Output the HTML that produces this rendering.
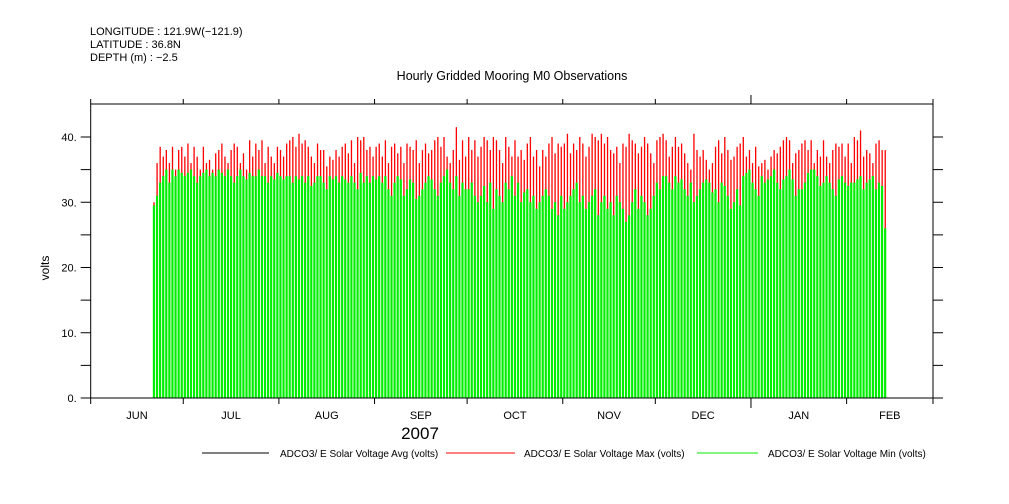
<!DOCTYPE html>
<html><head><meta charset="utf-8"><style>
body{margin:0;background:#fff;}
svg{display:block;font-family:"Liberation Sans",sans-serif;}
</style></head><body>
<svg id="chart" width="1009" height="504" viewBox="0 0 1009 504">
<g font-size="11" fill="#000">
<text x="90" y="35">LONGITUDE : 121.9W(−121.9)</text>
<text x="90" y="48">LATITUDE : 36.8N</text>
<text x="90" y="61">DEPTH (m) : −2.5</text>
</g>
<text x="512" y="80" text-anchor="middle" font-size="12.5">Hourly Gridded Mooring M0 Observations</text>
<text transform="translate(49,268) rotate(-90)" text-anchor="middle" font-size="12">volts</text>
<g id="marks"></g>
<g id="axes"></g>
<text x="420" y="439" text-anchor="middle" font-size="17">2007</text>
<g font-size="10">
<line x1="202" y1="453" x2="269" y2="453" stroke="#000"/>
<text x="280" y="457">ADCO3/ E Solar Voltage Avg (volts)</text>
<line x1="446" y1="453" x2="515" y2="453" stroke="#f00"/>
<text x="524" y="457">ADCO3/ E Solar Voltage Max (volts)</text>
<line x1="697" y1="453" x2="758" y2="453" stroke="#0e0"/>
<text x="768" y="457">ADCO3/ E Solar Voltage Min (volts)</text>
</g>
</svg>
<script>
const yTicks=[0,10,20,30,40];
const yTickLabels=["0.","10.","20.","30.","40."];
const monthLabels=["JUN","JUL","AUG","SEP","OCT","NOV","DEC","JAN","FEB"];
const monthStartDays=[0,30,61,92,122,153,183,214,245,273];
const firstDataDay=20;
const maxSeries=[30,36,38.5,37,38,36,38.5,35,38,38.5,
37,39,36,38.5,37,35,38.5,36,36.5,35,37.5,38,39,37,36,38,39,38.5,36,37.5,35,39.5,37,39,38,39.5,36,38.5,37,36,38.5,
38,37,39,39.5,40,38.5,40.5,39,39.5,38.5,37,36,39,38,38,35.5,37,36.5,38,37,38.5,39,37.5,39.5,36,40,39.5,40,38,38.5,37,
38.5,39,37,39.5,36,38.5,39,37.5,38.5,36,39,38.5,38,39.5,36,38,39,37.5,38,39.5,40,38.5,40,37,36,38,41.5,36.5,39.5,37,
40,38,39.5,37,38.5,40,39.5,38,40,39.5,38,36,40,38.5,37,39.5,37,38,36.5,39,40,37,38,35.5,38,37,39,40,37.5,39,38.5,
39,40.5,37.5,39,38,40,39,37,38.5,40.5,40,39.5,40.5,39,40,38,37.5,38.5,36,39,38.5,40.5,39.5,39,37.5,38.5,40,39,37.5,36,
39.5,40,40.5,39.5,37,38.5,40,38.5,39,37.5,36,35,40.5,38,37,38,36.5,35,36,38.5,39.5,37.5,40,38,36.5,37,38.5,39,40,37,38,
36,38.5,35.5,36,36.5,35,37,38,37.5,38.5,39.5,40,39.5,36,37.5,38,39,39.5,38,39.5,36,38,37,39.5,37,36,38,39,38.5,39,37,
39,36,40,39.5,41,37,38,37.5,36,39,39.5,38,38];
const minSeries=[29.5,31,33,34,35,33,35,34,35,34.5,
34,34.5,35,34,33,34,34.5,35,34,34.5,34,35,34.5,34,35,34,33,34,35,34,33.5,34.5,34,34,35,34,34,33,34,33.5,34.5,
34,33.5,34,34,33,34,33.5,34,33,34,32.5,33,34,34,33,32,34,33.5,34,33,34,33.5,33,34,33,32,34.5,33,34,33,34,
33.5,34,33,34,32,31,33,34,33.5,31,32,33.5,33,30.5,31,32,33,34,33.5,32,31,33,34,35,33,32,34,31,33,32,
32,33,31,30,31,32.5,30,33,29,32,31,30,33,32,34,31,33,30,31.5,32,30,31,29,30,31,32,31,29,30,28,31,
29,30,31,32,33,30,31,29,30,31,32,28,30,31,29,30,28,31,30,29,27,28,30,32,29,31,30,28,29,31,
33,32,34,34,33,32,34,33,33.5,32,31,33,30,31,32,33,33.5,33,31.5,32,30,33,32.5,31,29,30,32,29.5,34,34.5,35,
33,32,31,34,33,33.5,34,35,33,32,33.5,34,35,33.5,31,32,32,33,34.5,35,35,34,32.5,33,34,33,32,31,33.5,34,33,
32.5,33,33,33.5,34,32,33,33.5,34,32,33,32.5,26];

const NS='http://www.w3.org/2000/svg';
const X0=90.7,X1=933,Y0=398,Ytop=104;
const xDay=d=>X0+(X1-X0)*d/273;
const yVal=v=>Y0-(Y0-137)*v/40;
const marks=document.getElementById('marks');
const axes=document.getElementById('axes');
function mk(tag,parent,attrs){const e=document.createElementNS(NS,tag);for(const k in attrs)e.setAttribute(k,attrs[k]);parent.appendChild(e);return e;}

maxSeries.forEach((v,i)=>{
  const x=xDay(firstDataDay+i+0.5);
  const r=mk('rect',marks,{x:x-0.6,y:yVal(v),width:1.3,height:Y0-yVal(v),fill:'#f00'});
  
  
});
minSeries.forEach((v,i)=>{
  const x=xDay(firstDataDay+i+0.5);
  const r=mk('rect',marks,{x:x-1.1,y:yVal(v),width:2.2,height:Y0-yVal(v),fill:'#0e0'});
  
  
});

mk('rect',axes,{x:X0,y:Ytop,width:X1-X0,height:Y0-Ytop,fill:'none',stroke:'#000','stroke-width':1});
for(let v=0;v<=40;v+=5){
  const y=yVal(v);
  mk('line',axes,{x1:X0-10,y1:y,x2:X0,y2:y,stroke:'#000'});
  mk('line',axes,{x1:X1,y1:y,x2:X1+10,y2:y,stroke:'#000'});
}
yTicks.forEach((v,i)=>{
  const t=mk('text',axes,{x:X0-14,y:yVal(v)+4,'text-anchor':'end','font-size':11});
  t.textContent=yTickLabels[i];
  
  
});
monthStartDays.forEach((d,i)=>{
  const x=xDay(d);
  const big=(i===7);
  mk('line',axes,{x1:x,y1:Y0,x2:x,y2:Y0+(big?10:6),stroke:'#000'});
  mk('line',axes,{x1:x,y1:Ytop,x2:x,y2:Ytop-(big?9:5),stroke:'#000'});
});
monthLabels.forEach((m,i)=>{
  const x=(xDay(monthStartDays[i])+xDay(monthStartDays[i+1]))/2;
  const t=mk('text',axes,{x:x,y:419,'text-anchor':'middle','font-size':11});
  t.textContent=m;
  
  
});
</script>
</body></html>
